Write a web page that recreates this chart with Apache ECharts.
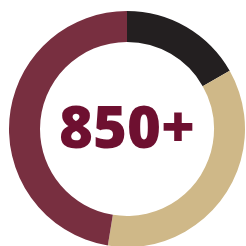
<!DOCTYPE html>
<html>
<head>
<meta charset="utf-8">
<script src="https://cdn.jsdelivr.net/npm/echarts@6/dist/echarts.min.js"></script>
<style>
  html, body { margin: 0; padding: 0; background: #fff; }
  #chart { width: 246px; height: 246px; }
</style>
</head>
<body>
<div id="chart"></div>
<script>
const names = ["A", "B", "C"];
const values = [16.8, 35.8, 47.4];
const colors = ["#231f20", "#cfb888", "#782f40"];
const centerText = "850+";

const chart = echarts.init(document.getElementById("chart"));
chart.setOption({
  animation: false,
  graphic: [
    {
      type: "text",
      x: 127,
      y: 131,
      style: {
        text: centerText,
        fill: "#6e1030",
        fontFamily: "Open Sans",
        fontWeight: 800,
        fontSize: 58,
        align: "center",
        verticalAlign: "middle",
      },
    },
  ],
  series: [
    {
      type: "pie",
      center: [127, 129],
      radius: [87, 118],
      startAngle: 90,
      clockwise: true,
      silent: true,
      label: { show: false },
      labelLine: { show: false },
      data: names.map((n, i) => ({
        name: n,
        value: values[i],
        itemStyle: { color: colors[i] },
      })),
    },
  ],
});
</script>
</body>
</html>
